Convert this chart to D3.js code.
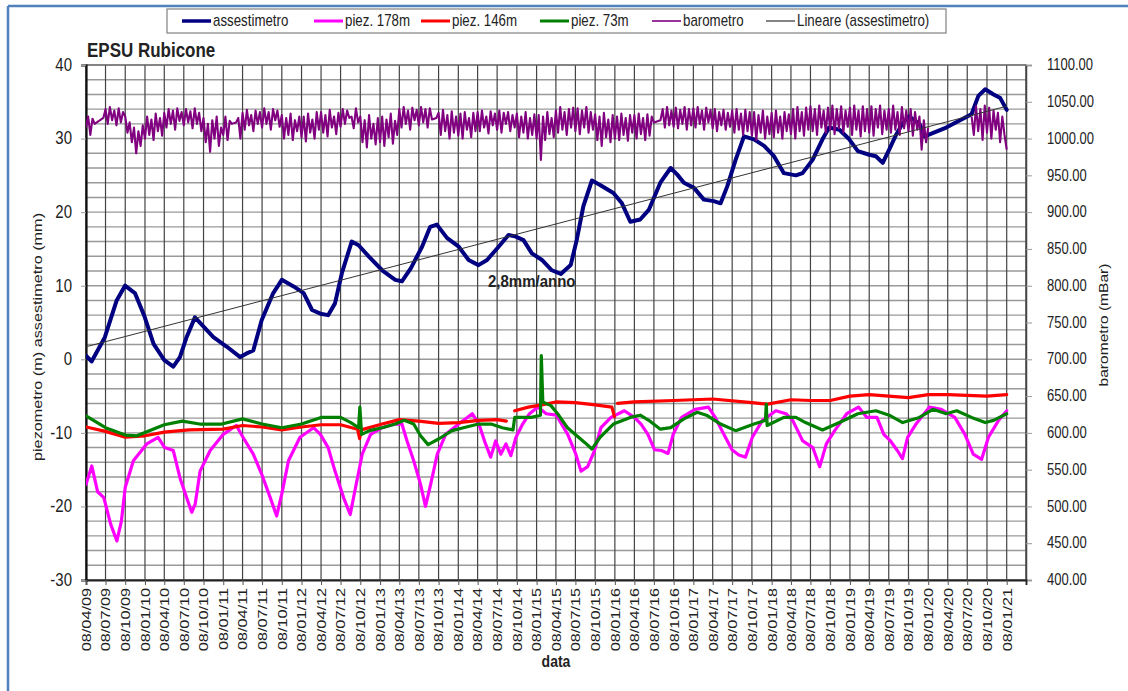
<!DOCTYPE html>
<html><head><meta charset="utf-8">
<script src="https://cdn.jsdelivr.net/npm/d3@7"></script>
<style>
body{margin:0;background:#fff}
svg{display:block}
text{font-family:"Liberation Sans",Arial,sans-serif;fill:#222}
</style>
</head><body><svg id="c" width="1128" height="691"></svg>
<script>
// ---------------- DATA ----------------
const xTickLabels = ["08/04/09","08/07/09","08/10/09","08/01/10","08/04/10","08/07/10","08/10/10","08/01/11","08/04/11","08/07/11","08/10/11","08/01/12","08/04/12","08/07/12","08/10/12","08/01/13","08/04/13","08/07/13","08/10/13","08/01/14","08/04/14","08/07/14","08/10/14","08/01/15","08/04/15","08/07/15","08/10/15","08/01/16","08/04/16","08/07/16","08/10/16","08/01/17","08/04/17","08/07/17","08/10/17","08/01/18","08/04/18","08/07/18","08/10/18","08/01/19","08/04/19","08/07/19","08/10/19","08/01/20","08/04/20","08/07/20","08/10/20","08/01/21"];
const xDomain = ["2009-04-08","2021-04-08"];
const leftTicks = [-30,-20,-10,0,10,20,30,40];
const rightTicks = [400,450,500,550,600,650,700,750,800,850,900,950,1000,1050,1100];

const assestimetro = [["2009-04-08",0.5],["2009-05-04",-0.3],["2009-07-05",3.0],["2009-08-29",8.0],["2009-10-07",10.0],["2009-11-22",9.0],["2010-01-06",5.8],["2010-02-17",2.1],["2010-04-08",-0.1],["2010-05-20",-1.0],["2010-06-20",0.3],["2010-07-21",3.0],["2010-08-29",5.7],["2010-11-23",3.0],["2011-01-25",1.7],["2011-03-28",0.3],["2011-04-27",0.8],["2011-05-28",1.2],["2011-07-06",5.3],["2011-08-29",9.0],["2011-10-08",10.8],["2011-12-02",9.9],["2012-01-18",9.0],["2012-02-26",6.7],["2012-04-05",6.2],["2012-05-11",6.0],["2012-06-12",7.6],["2012-07-14",11.7],["2012-08-29",16.0],["2012-09-30",15.5],["2012-11-16",14.0],["2013-01-18",12.1],["2013-03-20",10.8],["2013-04-20",10.6],["2013-06-01",12.4],["2013-07-23",15.3],["2013-08-30",18.0],["2013-09-30",18.3],["2013-11-16",16.5],["2014-01-10",15.3],["2014-02-25",13.5],["2014-04-12",12.8],["2014-05-22",13.5],["2014-07-15",15.3],["2014-08-30",16.9],["2014-09-30",16.7],["2014-11-08",16.2],["2014-12-17",14.4],["2015-02-02",13.5],["2015-03-20",12.1],["2015-05-01",11.6],["2015-06-16",12.8],["2015-07-14",16.2],["2015-08-14",20.8],["2015-09-23",24.3],["2015-10-31",23.7],["2016-01-01",22.6],["2016-02-10",21.2],["2016-03-20",18.7],["2016-05-05",19.0],["2016-06-14",20.3],["2016-08-07",24.0],["2016-09-24",26.0],["2016-10-25",25.1],["2016-11-25",24.0],["2017-01-11",23.3],["2017-02-26",21.7],["2017-04-13",21.5],["2017-05-15",21.2],["2017-06-15",23.5],["2017-07-24",27.1],["2017-09-01",30.3],["2017-10-18",29.9],["2017-12-04",29.0],["2018-01-19",27.6],["2018-03-06",25.3],["2018-05-01",25.0],["2018-06-01",25.3],["2018-07-18",27.1],["2018-09-02",29.9],["2018-10-03",31.5],["2018-11-20",31.2],["2019-01-05",29.9],["2019-02-14",28.3],["2019-04-08",27.8],["2019-05-09",27.6],["2019-06-10",26.7],["2019-07-10",28.5],["2019-08-11",30.5],["2019-09-11",32.1],["2019-10-12",33.0],["2019-11-28",32.0],["2019-12-22",30.3],["2020-04-01",31.5],["2020-07-28",33.3],["2020-08-29",35.8],["2020-09-30",36.7],["2020-11-08",36.0],["2020-12-09",35.5],["2021-01-08",33.9]];

const piez178 = [["2009-04-08",-17.0],["2009-05-05",-14.5],["2009-06-01",-18.0],["2009-06-30",-18.8],["2009-08-01",-22.4],["2009-08-30",-24.7],["2009-09-20",-22.0],["2009-10-08",-17.4],["2009-11-15",-13.8],["2010-01-16",-11.5],["2010-03-10",-10.6],["2010-04-10",-12.0],["2010-05-20",-12.4],["2010-06-20",-16.1],["2010-07-21",-18.8],["2010-08-14",-20.8],["2010-08-30",-19.7],["2010-09-22",-15.2],["2010-11-08",-12.4],["2011-01-08",-10.2],["2011-03-10",-9.0],["2011-04-10",-10.6],["2011-05-28",-12.9],["2011-07-06",-15.6],["2011-08-15",-18.8],["2011-09-14",-21.3],["2011-10-08",-18.3],["2011-11-08",-13.8],["2012-01-01",-10.6],["2012-03-04",-9.3],["2012-04-05",-10.2],["2012-05-11",-12.0],["2012-06-12",-15.2],["2012-07-22",-18.8],["2012-08-22",-21.1],["2012-09-16",-17.4],["2012-10-17",-12.9],["2012-11-25",-10.2],["2013-01-18",-9.3],["2013-03-20",-8.8],["2013-04-20",-8.8],["2013-05-14",-11.1],["2013-06-14",-13.8],["2013-07-16",-17.0],["2013-08-08",-20.0],["2013-09-01",-17.0],["2013-10-02",-12.9],["2013-11-10",-10.2],["2014-01-10",-8.8],["2014-03-14",-7.4],["2014-04-14",-8.8],["2014-05-15",-11.5],["2014-06-08",-13.3],["2014-07-01",-11.1],["2014-07-25",-12.9],["2014-08-18",-11.5],["2014-09-10",-13.1],["2014-10-04",-10.6],["2014-11-04",-8.8],["2014-12-06",-7.4],["2015-01-14",-6.5],["2015-02-22",-7.4],["2015-04-10",-7.6],["2015-06-02",-10.2],["2015-07-10",-12.9],["2015-08-03",-15.2],["2015-09-03",-14.6],["2015-10-04",-12.5],["2015-11-04",-9.3],["2015-12-21",-7.9],["2016-02-21",-7.0],["2016-04-08",-7.9],["2016-05-09",-8.8],["2016-06-10",-10.2],["2016-07-11",-12.3],["2016-08-12",-12.4],["2016-09-12",-12.8],["2016-10-06",-10.2],["2016-11-14",-7.9],["2017-01-16",-6.8],["2017-03-19",-6.5],["2017-04-20",-7.9],["2017-05-30",-10.2],["2017-07-07",-12.3],["2017-08-08",-13.0],["2017-09-08",-13.3],["2017-10-10",-10.6],["2017-11-26",-8.3],["2018-01-28",-7.0],["2018-03-16",-7.4],["2018-04-16",-8.3],["2018-06-02",-11.1],["2018-07-19",-12.0],["2018-08-20",-14.6],["2018-09-20",-11.5],["2018-10-29",-9.7],["2018-12-24",-7.4],["2019-02-17",-6.5],["2019-03-28",-7.9],["2019-05-14",-7.9],["2019-06-15",-10.2],["2019-07-16",-11.1],["2019-08-17",-12.4],["2019-09-10",-13.5],["2019-10-04",-10.6],["2019-11-12",-8.8],["2020-01-14",-6.5],["2020-03-09",-6.8],["2020-05-11",-7.9],["2020-06-27",-10.2],["2020-08-05",-12.9],["2020-09-13",-13.6],["2020-10-15",-10.6],["2020-12-01",-8.3],["2021-01-08",-7.0]];

const piez146 = [["2009-04-08",-9.2],["2009-07-08",-9.8],["2009-10-08",-10.6],["2010-01-08",-10.4],["2010-04-08",-9.9],["2010-08-01",-9.6],["2011-01-08",-9.5],["2011-04-08",-9.0],["2011-07-08",-9.2],["2011-10-08",-9.6],["2012-01-08",-9.2],["2012-04-08",-8.9],["2012-07-08",-8.9],["2012-09-25",-9.5],["2012-10-05",-10.8],["2012-10-12",-9.6],["2013-01-18",-8.8],["2013-04-08",-8.2],["2013-07-08",-8.4],["2013-10-08",-8.7],["2014-01-10",-8.6],["2014-04-12",-8.3],["2014-07-08",-8.2],["2014-08-20",-8.4],["2014-09-10",null],["2014-09-28",-7.0],["2014-12-01",-6.5],["2015-02-01",-6.2],["2015-04-08",-5.8],["2015-07-08",-5.9],["2015-10-08",-6.2],["2015-12-25",-6.5],["2016-01-06",-7.8],["2016-01-12",null],["2016-01-20",-6.0],["2016-04-08",-5.8],["2016-10-08",-5.6],["2017-04-08",-5.4],["2017-10-08",-5.9],["2017-12-20",-6.1],["2018-04-08",-5.5],["2018-07-08",-5.6],["2018-10-08",-5.6],["2019-01-08",-5.0],["2019-04-08",-4.8],["2019-07-08",-5.0],["2019-10-08",-5.2],["2020-01-08",-4.8],["2020-04-08",-4.8],["2020-07-08",-4.9],["2020-10-08",-5.0],["2021-01-08",-4.8]];

const piez73 = [["2009-04-08",-7.7],["2009-07-08",-9.3],["2009-10-08",-10.3],["2009-12-01",-10.4],["2010-04-08",-8.9],["2010-07-01",-8.4],["2010-09-20",-8.8],["2011-01-01",-8.8],["2011-04-08",-8.1],["2011-07-08",-8.8],["2011-10-08",-9.3],["2012-01-08",-8.8],["2012-04-08",-7.9],["2012-07-08",-7.9],["2012-08-25",-8.6],["2012-09-30",-9.3],["2012-10-06",-6.5],["2012-10-14",-10.2],["2012-11-20",-9.7],["2013-01-18",-9.3],["2013-03-20",-8.8],["2013-05-01",-8.3],["2013-06-14",-8.8],["2013-07-16",-10.4],["2013-08-20",-11.6],["2013-10-10",-10.8],["2013-12-10",-9.7],["2014-02-01",-9.3],["2014-04-12",-8.8],["2014-06-10",-8.8],["2014-08-01",-9.3],["2014-09-20",-9.6],["2014-09-28",-7.9],["2014-12-15",-7.9],["2015-01-26",-7.6],["2015-01-30",0.5],["2015-02-06",-5.8],["2015-03-16",-6.3],["2015-04-16",-7.4],["2015-06-01",-9.3],["2015-08-20",-11.3],["2015-09-23",-12.2],["2015-10-31",-10.6],["2016-01-01",-8.8],["2016-03-20",-7.9],["2016-05-05",-7.6],["2016-06-14",-8.3],["2016-08-07",-9.5],["2016-09-24",-9.3],["2016-11-25",-8.1],["2017-01-26",-7.2],["2017-03-10",-7.6],["2017-05-15",-8.8],["2017-07-24",-9.7],["2017-10-18",-8.8],["2017-12-10",-8.3],["2017-12-14",-6.1],["2017-12-18",-9.0],["2018-03-06",-7.9],["2018-05-01",-7.9],["2018-06-15",-8.6],["2018-09-02",-9.6],["2018-11-20",-8.6],["2019-02-14",-7.4],["2019-05-09",-7.0],["2019-07-10",-7.6],["2019-09-11",-8.6],["2019-11-28",-7.9],["2020-01-30",-6.8],["2020-04-01",-7.4],["2020-05-20",-7.0],["2020-07-28",-7.9],["2020-09-30",-8.6],["2020-11-08",-8.3],["2021-01-08",-7.4]];

// barometro (mBar): one row of readings per quarter (between consecutive tick dates)
const barometro = [
[1015,1030,1005,1027,1020,1022,1024,1026,1028],
[1040,1020,1043,1025,1038,1018,1041,1022,1036],
[1030,1008,1022,995,1015,980,1010,990,1018],
[1000,1030,1005,1026,998,1034,1010,1028,1004],
[1035,1015,1040,1020,1038,1012,1041,1024,1036],
[1018,1040,1022,1037,1014,1041,1020,1035,1010],
[1028,995,1020,982,1025,1000,1030,990,1015],
[1005,1030,998,1024,1020,1021,1022,1028,1000],
[1035,1012,1039,1018,1032,1010,1038,1020,1036],
[1015,1041,1020,1036,1012,1040,1025,1038,1016],
[1032,1000,1028,1005,1034,998,1025,1010,1030],
[1002,1030,996,1034,1008,1026,1000,1036,1012],
[1036,1008,1032,1003,1039,1015,1030,1006,1035],
[1016,1040,1020,1038,1028,1030,1014,1041,1022],
[1030,995,1025,988,1032,1000,1020,992,1028],
[995,1030,990,1026,1002,1034,993,1024,1005],
[1040,1015,1043,1020,1038,1012,1042,1025,1039],
[1018,1043,1022,1040,1015,1041,1026,1027,1028],
[1035,1005,1039,1010,1032,1000,1037,1008,1030],
[1004,1034,1000,1036,1012,1028,1002,1035,1010],
[1036,1010,1038,1015,1030,1007,1037,1018,1034],
[1012,1038,1008,1035,1020,1036,1010,1032,1015],
[1034,1002,1030,1008,1036,1000,1028,1005,1033],
[1000,1032,971,1030,998,1036,1006,1028,1002],
[1038,1008,1043,1012,1036,1005,1040,1015,1042],
[1010,1041,1006,1038,1015,1043,1008,1036,1012],
[1033,998,1030,990,1035,1002,1026,995,1032],
[1000,1030,998,1034,1005,1028,997,1032,1008],
[1032,1000,1034,1006,1028,998,1033,1004,1030],
[1022,1023,1024,1025,1040,1015,1043,1018,1038],
[1016,1042,1014,1039,1020,1043,1012,1040,1018],
[1041,1015,1043,1020,1038,1012,1042,1022,1039],
[1014,1040,1010,1036,1018,1039,1012,1035,1016],
[1038,1008,1040,1012,1034,1005,1039,1010,1036],
[1004,1036,998,1032,1008,1038,1000,1030,1006],
[1035,1002,1038,1008,1030,1000,1036,1010,1033],
[1006,1040,1000,1043,1010,1036,1004,1042,1012],
[1044,1010,1040,1005,1045,1015,1038,1008,1042],
[1012,1045,1006,1040,1014,1044,1008,1038,1016],
[1042,1005,1045,1012,1038,1003,1044,1010,1040],
[1008,1044,1004,1040,1015,1045,1006,1038,1012],
[1040,1008,1045,1012,1036,1005,1043,1014,1038],
[1010,1040,1004,1036,1012,1030,985,1025,995],
[1015,null,null,null,null,null,null,null,null],
[null,null,null,null,null,null,null,null,null],
[null,null,1030,1005,1044,1010,1040,998,1045],
[1008,1042,1000,1038,1012,1035,995,1030,1005]
];
const barometroEnd = 985;

const lineare = [["2009-04-08",1.7],["2021-01-08",34.4]];
const trendLabel = "2,8mm/anno";

const seriesNames = ["assestimetro","piez. 178m","piez. 146m","piez. 73m","barometro","Lineare (assestimetro)"];

// ---------------- CHART ----------------
const svg = d3.select("#c");
const W = 1128, H = 691;
const P = {l:86, r:1026, t:65, b:580};
const parseD = d3.timeParse("%Y-%m-%d");
const parseT = d3.timeParse("%d/%m/%y");
const tickDates = xTickLabels.map(parseT);

const x = d3.scaleTime().domain(xDomain.map(parseD)).range([P.l, P.r]);
const yL = d3.scaleLinear().domain([-30,40]).range([P.b, P.t]);
const yR = d3.scaleLinear().domain([400,1100]).range([P.b, P.t]);

svg.append("rect").attr("width",W).attr("height",H).attr("fill","#fff");
// outer (cropped) frame
svg.append("line").attr("x1",8).attr("x2",W).attr("y1",6).attr("y2",6).attr("stroke","#4f81bd").attr("stroke-width",2.5);
svg.append("line").attr("x1",8).attr("x2",8).attr("y1",6).attr("y2",H).attr("stroke","#4f81bd").attr("stroke-width",2.5);

// grid
const g = svg.append("g");
g.selectAll("line.h").data(yL.ticks(35)).join("line")
  .attr("x1",P.l).attr("x2",P.r).attr("y1",d=>yL(d)).attr("y2",d=>yL(d))
  .attr("stroke","#999").attr("stroke-width",1.4);
g.selectAll("line.v").data(tickDates.concat([x.domain()[1]])).join("line")
  .attr("x1",d=>x(d)).attr("x2",d=>x(d)).attr("y1",P.t).attr("y2",P.b)
  .attr("stroke","#444").attr("stroke-width",1.2);
svg.append("rect").attr("x",P.l).attr("y",P.t).attr("width",P.r-P.l).attr("height",P.b-P.t)
  .attr("fill","none").attr("stroke","#666").attr("stroke-width",1.2);

// axes
const axL = svg.append("g").attr("transform",`translate(${P.l},0)`)
  .call(d3.axisLeft(yL).tickValues(leftTicks).tickSize(5).tickPadding(9).tickFormat(d=>String(d)));
axL.select(".domain").attr("stroke","#111").attr("stroke-width",2.2);
axL.selectAll(".tick line").attr("stroke","#999");
axL.selectAll("text").style("font-size","15px").attr("fill","#222").attr("transform","scale(1,1.2)").attr("dy","0.3em");

const axR = svg.append("g").attr("transform",`translate(${P.r},0)`)
  .call(d3.axisRight(yR).tickValues(rightTicks).tickSize(6).tickPadding(15).tickFormat(d3.format(".2f")));
axR.select(".domain").attr("stroke","#444").attr("stroke-width",1.5);
axR.selectAll(".tick line").attr("stroke","#999");
axR.selectAll("text").style("font-size","13px").attr("fill","#222").attr("transform","scale(1,1.2)").attr("dy","0.3em");

const axB = svg.append("g").attr("transform",`translate(0,${P.b})`)
  .call(d3.axisBottom(x).tickValues(tickDates).tickSize(5).tickFormat((d,i)=>xTickLabels[i]));
axB.select(".domain").attr("stroke","#222").attr("stroke-width",1.8);
axB.selectAll(".tick line").attr("stroke","#555");
axB.selectAll("text").style("font-size","12.5px").attr("fill","#222")
  .attr("text-anchor","end").attr("x",0).attr("y",0).attr("dy","0.35em")
  .attr("transform","translate(0,8) rotate(-90) scale(1.3,1)");

// series
svg.append("clipPath").attr("id","clip").append("rect")
  .attr("x",P.l).attr("y",P.t).attr("width",P.r-P.l).attr("height",P.b-P.t);
const plot = svg.append("g").attr("clip-path","url(#clip)");
const prep = arr => arr.map(d=>[parseD(d[0]), d[1]]);
const lineL = d3.line().defined(d=>d[1]!=null).x(d=>x(d[0])).y(d=>yL(d[1]));
const lineR = d3.line().defined(d=>d[1]!=null).x(d=>x(d[0])).y(d=>yR(d[1]));

const colors = {blue:"#000080", mag:"#ff00ff", red:"#ff0000", green:"#008000", purple:"#800080", trend:"#333"};
const drawL = (data,c,w)=>plot.append("path").datum(prep(data)).attr("d",lineL)
  .attr("fill","none").attr("stroke",c).attr("stroke-width",w).attr("stroke-linejoin","round").attr("stroke-linecap","round");
drawL(assestimetro,colors.blue,4);
drawL(piez178,colors.mag,3.2);
drawL(piez146,colors.red,3.2);
drawL(piez73,colors.green,3.2);

const baroPts = [];
barometro.forEach((row,q)=>{
  const t0 = +tickDates[q], t1 = +tickDates[q+1];
  row.forEach((v,k)=>baroPts.push([new Date(t0+(t1-t0)*k/row.length), v]));
});
baroPts.push([tickDates[tickDates.length-1], barometroEnd]);
plot.append("path").datum(baroPts).attr("d",lineR).attr("fill","none")
  .attr("stroke",colors.purple).attr("stroke-width",2.1).attr("stroke-linejoin","round");

plot.append("path").datum(prep(lineare)).attr("d",lineL).attr("fill","none")
  .attr("stroke",colors.trend).attr("stroke-width",1);

// annotation
svg.append("text").attr("transform",`translate(488,287) scale(1,1.15)`)
  .style("font-size","15px").style("font-weight","bold").attr("fill","#1a1a1a").text(trendLabel);

// titles
svg.append("text").attr("transform","translate(87,57) scale(1,1.15)")
  .style("font-size","17px").style("font-weight","bold").attr("fill","#111").text("EPSU Rubicone");
svg.append("text").attr("transform","translate(42,337) rotate(-90) scale(1.3,1)")
  .attr("text-anchor","middle").style("font-size","12.5px").attr("fill","#222")
  .text("piezometro (m) assestimetro (mm)");
svg.append("text").attr("transform","translate(1108,325) rotate(-90) scale(1.3,1)")
  .attr("text-anchor","middle").style("font-size","12px").attr("fill","#222")
  .text("barometro (mBar)");
svg.append("text").attr("transform","translate(556,667) scale(1,1.2)")
  .attr("text-anchor","middle").style("font-size","14px").style("font-weight","bold").attr("fill","#111")
  .text("data");

// legend
svg.append("rect").attr("x",167).attr("y",9).attr("width",779).attr("height",24)
  .attr("fill","#fff").attr("stroke","#8a8a8a").attr("stroke-width",1.3);
const legStyle = [
  {c:colors.blue,w:3.5,x:182},{c:colors.mag,w:3,x:314},{c:colors.red,w:3,x:421},
  {c:colors.green,w:3,x:540},{c:colors.purple,w:1.6,x:652},{c:colors.trend,w:1.2,x:766}];
seriesNames.forEach((n,i)=>{
  const s = legStyle[i];
  svg.append("line").attr("x1",s.x).attr("x2",s.x+29).attr("y1",21).attr("y2",21)
    .attr("stroke",s.c).attr("stroke-width",s.w);
  svg.append("text").attr("transform",`translate(${s.x+31},25.5) scale(1,1.2)`)
    .style("font-size","13.3px").attr("fill","#333").text(n);
});
</script>
</body></html>
